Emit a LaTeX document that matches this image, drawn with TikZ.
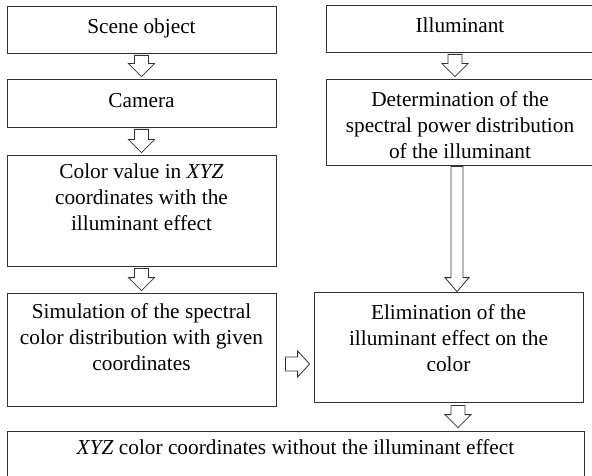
\documentclass[tikz,border=0pt]{standalone}
\usepackage{fontspec}
\setmainfont{Liberation Serif}
\usetikzlibrary{calc}
\tikzset{
  box/.style={draw=black!80, line width=0.8pt, rectangle, inner sep=0pt},
  boxtext/.style={anchor=north, inner sep=0pt, align=center,
    font=\fontsize{21.3}{25.8}\selectfont, execute at begin node=\strut},
  blockarrow/.style={draw=black!80, line width=0.8pt, fill=white, line join=miter},
}
% hollow block arrow pointing down: start, tip, shaft half-width, head half-width, head length
\newcommand{\blockdown}[5]{%
  \draw[blockarrow] let \p1=(#1), \p2=(#2) in
    (\x1-#3,\y1) -- (\x1+#3,\y1) -- (\x1+#3,\y2+#5) -- (\x1+#4,\y2+#5) -- (\x1,\y2)
    -- (\x1-#4,\y2+#5) -- (\x1-#3,\y2+#5) -- cycle;}
% hollow block arrow pointing right: start, tip, shaft half-width, head half-width, head length
\newcommand{\blockright}[5]{%
  \draw[blockarrow] let \p1=(#1), \p2=(#2) in
    (\x1,\y1+#3) -- (\x1,\y1-#3) -- (\x2-#5,\y1-#3) -- (\x2-#5,\y1-#4) -- (\x2,\y1)
    -- (\x2-#5,\y1+#4) -- (\x2-#5,\y1+#3) -- cycle;}
\begin{document}
\begin{tikzpicture}[x=1pt,y=-1pt]
\useasboundingbox (0,0) rectangle (592,476);
\fill[white] (0,0) rectangle (592,476);

% left column
\node[box, minimum width=269pt, minimum height=47pt]  (scene)  at (141.5,29.5) {};
\node[boxtext] (scene-t) at (141.5,14.8) {Scene object};
\node[box, minimum width=269pt, minimum height=48pt]  (camera) at (141.5,103) {};
\node[boxtext] (camera-t) at (141.5,88.8) {Camera};
\node[box, minimum width=269pt, minimum height=111pt] (color)  at (141.5,210.5) {};
\node[boxtext] (color-t) at (141.5,163.8) {Color value in \textit{XYZ}\\coordinates with the\\illuminant effect};
\node[box, minimum width=269pt, minimum height=113pt] (sim)    at (141.5,349.5) {};
\node[boxtext] (sim-t) at (141.5,303.8) {Simulation of the spectral\\color distribution with given\\coordinates};

% right column
\node[box, minimum width=268pt, minimum height=47pt]  (illum)  at (460,28.5) {};
\node[boxtext] (illum-t) at (460,14.3) {Illuminant};
\node[box, minimum width=268pt, minimum height=86pt]  (determ) at (460,122) {};
\node[boxtext] (determ-t) at (460,91.3) {Determination of the\\spectral power distribution\\of the illuminant};
\node[box, minimum width=269pt, minimum height=110pt] (elim)   at (448.5,347) {};
\node[boxtext] (elim-t) at (448.5,304.3) {Elimination of the\\illuminant effect on the\\color};

% result
\node[box, minimum width=577pt, minimum height=59pt]  (final)  at (295.5,460.5) {};
\node[boxtext] (final-t) at (295.5,436.3) {\textit{XYZ} color coordinates without the illuminant effect};

% connectors
\blockdown{$(scene.south)+(0,2)$}{$(camera.north)+(0,-2)$}{7pt}{13pt}{13pt}
\blockdown{$(camera.south)+(0,2)$}{$(color.north)+(0,-2)$}{7pt}{13pt}{13pt}
\blockdown{$(color.south)+(0,2)$}{$(sim.north)+(0,-2)$}{7pt}{13pt}{13pt}
\blockdown{$(illum.south)+(-5,2)$}{$(determ.north)+(0,-2)$}{7pt}{13pt}{13pt}
\blockdown{$(determ.south)+(-3,1)$}{elim.north}{6pt}{12pt}{14pt}
\blockright{$(sim.east)+(9,14.5)$}{$(elim.west)+(-4,0)$}{7pt}{13pt}{12pt}
\blockdown{$(elim.south)+(9.5,3)$}{$(final.north)+(0,-3)$}{7pt}{13pt}{13pt}
\end{tikzpicture}
\end{document}
